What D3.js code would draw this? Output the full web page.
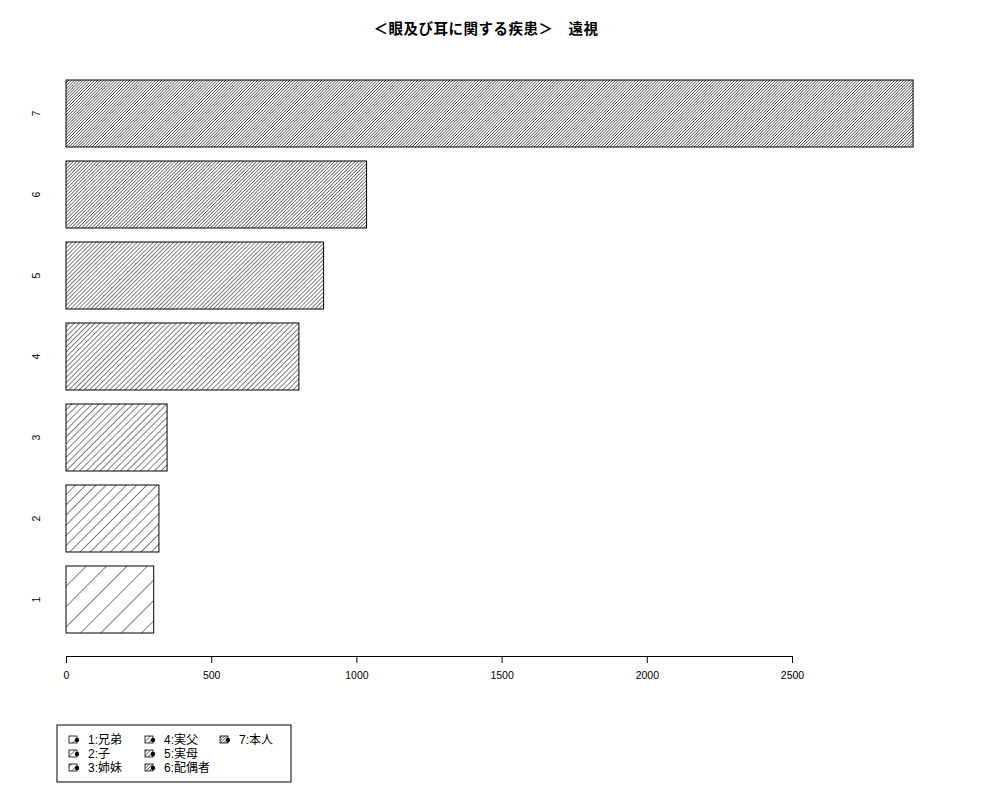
<!DOCTYPE html>
<html>
<head>
<meta charset="utf-8">
<script src="https://cdn.jsdelivr.net/npm/d3@7"></script>
<style>
  body { margin: 0; background: #fff; }
  text { font-family: "Liberation Sans", "Noto Sans CJK JP", sans-serif; }
</style>
</head>
<body>
<script>
// metrics
const width = 1000, height = 800;
const left = 66, right = 792;
const axisY = 656;

// data
const categories = ["1", "2", "3", "4", "5", "6", "7"];
const values = [302, 320, 348, 802, 887, 1035, 2917];
const densities = [5, 10, 15, 20, 25, 30, 35];
const legendLabels = ["1:兄弟", "2:子", "3:姉妹", "4:実父", "5:実母", "6:配偶者", "7:本人"];
const xTicks = [0, 500, 1000, 1500, 2000, 2500];
const title = "＜眼及び耳に関する疾患＞　遠視";

// elements
const svg = d3.select('body').append('svg')
    .attr('width', width)
    .attr('height', height);

// hatch patterns, spacing from density (lines per inch at 72dpi)
const defs = svg.append('defs');
densities.forEach((d, i) => {
    const gap = 72 / d;
    const p = defs.append('pattern')
        .attr('id', 'hatch' + i)
        .attr('patternUnits', 'userSpaceOnUse')
        .attr('width', gap)
        .attr('height', gap)
        .attr('patternTransform', 'rotate(45)');
    p.append('line')
        .attr('x1', 0).attr('y1', 0)
        .attr('x2', 0).attr('y2', gap)
        .attr('stroke', '#000')
        .attr('stroke-width', 1);
});

// scales
const xScale = d3.scaleLinear()
    .domain([0, 2500])
    .range([left, right]);
const yScale = d3.scaleBand()
    .domain(categories.slice().reverse())
    .range([73, 640])
    .paddingInner(14 / 81)
    .paddingOuter(7 / 81);

// title
svg.append('text')
    .attr('x', 486)
    .attr('y', 34)
    .attr('text-anchor', 'middle')
    .style('font-size', '14.5px')
    .style('font-weight', 'bold')
    .style('letter-spacing', '0.5px')
    .text(title);

// bars
svg.selectAll('rect.bar')
    .data(categories)
    .enter().append('rect')
    .attr('class', 'bar')
    .attr('x', xScale(0))
    .attr('y', d => yScale(d))
    .attr('width', (d, i) => xScale(values[i]) - xScale(0))
    .attr('height', yScale.bandwidth())
    .attr('fill', (d, i) => `url(#hatch${i})`)
    .attr('stroke', '#000')
    .attr('stroke-width', 1);

// x axis
const xAxis = svg.append('g')
    .attr('transform', `translate(0, ${axisY})`)
    .call(d3.axisBottom(xScale).tickValues(xTicks).tickFormat(d3.format('d')).tickSize(7).tickPadding(9));
xAxis.select('.domain').attr('stroke', '#000');
xAxis.selectAll('text').style('font-size', '10.5px').attr('fill', '#000');

// y labels (rotated, no axis line)
svg.selectAll('text.ylab')
    .data(categories)
    .enter().append('text')
    .attr('class', 'ylab')
    .attr('transform', d => `translate(40, ${yScale(d) + yScale.bandwidth() / 2}) rotate(-90)`)
    .attr('text-anchor', 'middle')
    .style('font-size', '10.5px')
    .text(d => d);

// legend
const legend = svg.append('g');
legend.append('rect')
    .attr('x', 57).attr('y', 725)
    .attr('width', 234).attr('height', 57)
    .attr('fill', 'none')
    .attr('stroke', '#000');

const colX = [69, 145, 220];
const rowY = [740, 754, 768];
legendLabels.forEach((lab, i) => {
    const cx = colX[Math.floor(i / 3)], cy = rowY[i % 3];
    legend.append('rect')
        .attr('x', cx).attr('y', cy - 4)
        .attr('width', 8).attr('height', 7)
        .attr('fill', `url(#hatch${i})`)
        .attr('stroke', '#000')
        .attr('stroke-width', 0.8);
    legend.append('circle')
        .attr('cx', cx + 8).attr('cy', cy)
        .attr('r', 2.2)
        .attr('fill', '#000');
    legend.append('text')
        .attr('x', cx + 19).attr('y', cy + 4)
        .style('font-size', '12px')
        .text(lab);
});
</script>
</body>
</html>
